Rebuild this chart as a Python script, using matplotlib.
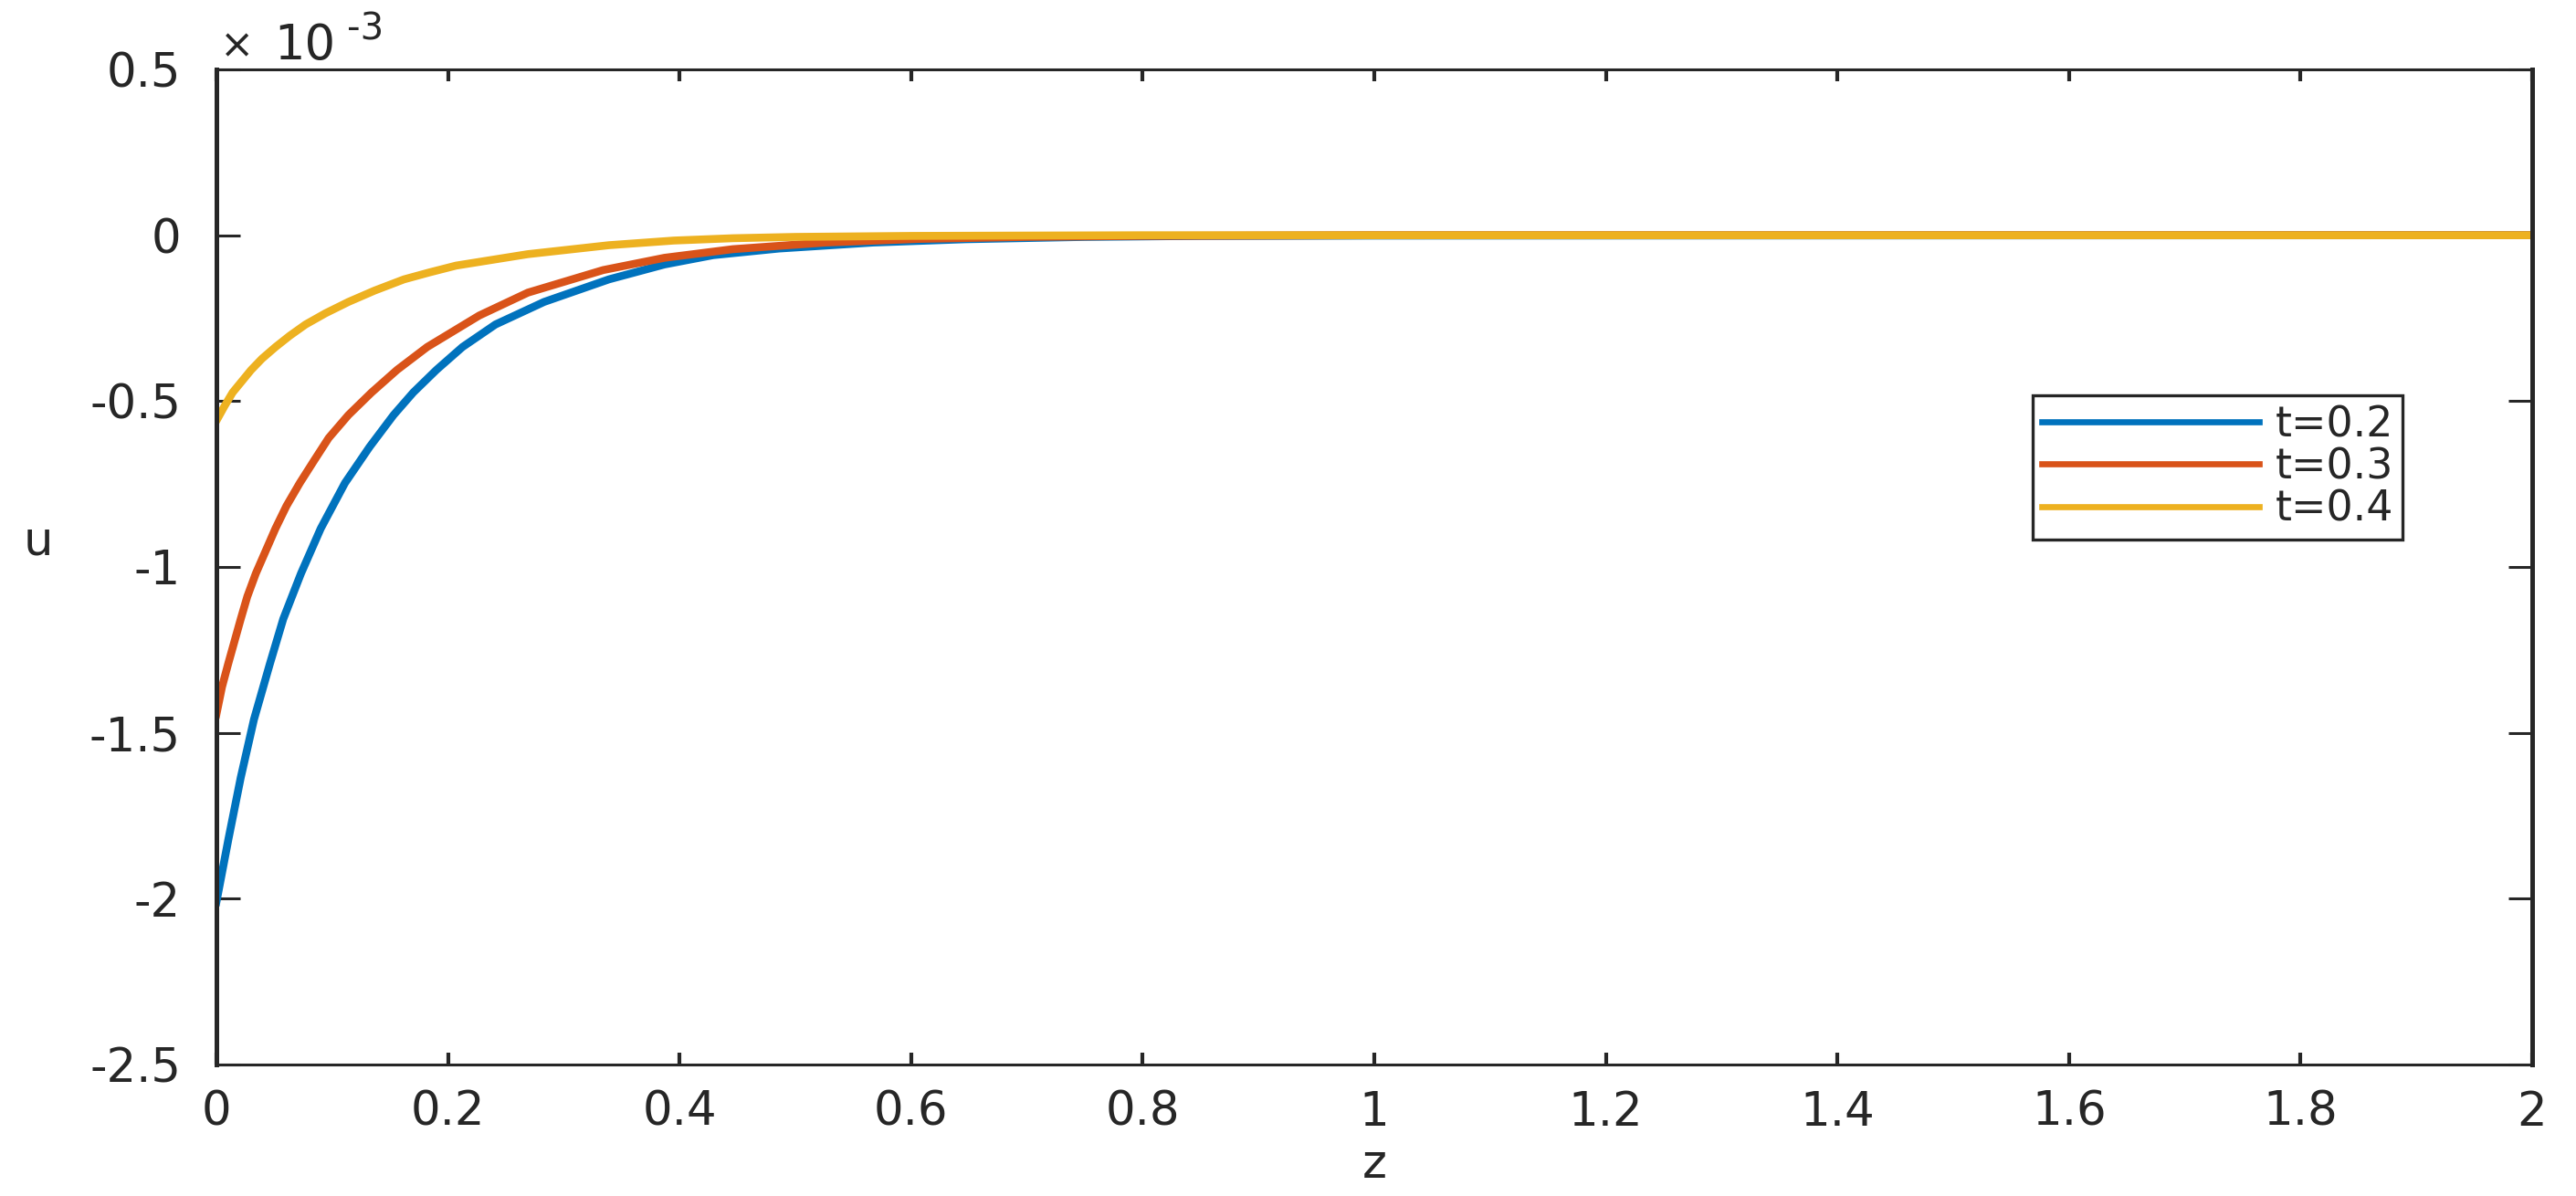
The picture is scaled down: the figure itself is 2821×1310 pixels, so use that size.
import numpy as np
import matplotlib
matplotlib.use('Agg')
import matplotlib.pyplot as plt
from matplotlib.ticker import FormatStrFormatter

plt.rcParams['font.family'] = ['DejaVu Sans']
plt.rcParams['axes.unicode_minus'] = False

# values, u in units of 1e-3
z_02 = [0, 0.0104, 0.021, 0.0324, 0.046, 0.0577, 0.073, 0.0901, 0.111, 0.1323, 0.153,
        0.170, 0.190, 0.2125, 0.241, 0.283, 0.339, 0.387, 0.429, 0.486, 0.567, 0.647,
        0.75, 0.85, 1.0, 2.0]
u_02 = [-2.01, -1.82, -1.635, -1.46, -1.294, -1.157, -1.02, -0.884, -0.747, -0.638, -0.542,
        -0.474, -0.406, -0.337, -0.269, -0.201, -0.133, -0.088, -0.060, -0.040, -0.022, -0.012,
        -0.005, -0.002, -0.001, 0]

z_03 = [0, 0.0048, 0.010, 0.021, 0.0267, 0.034, 0.051, 0.0605, 0.072, 0.0844, 0.097,
        0.114, 0.134, 0.156, 0.182, 0.227, 0.269, 0.334, 0.387, 0.446, 0.526, 0.607,
        0.7, 0.8, 1.0, 2.0]
u_03 = [-1.444, -1.362, -1.294, -1.157, -1.089, -1.02, -0.884, -0.816, -0.747, -0.679, -0.611,
        -0.542, -0.474, -0.406, -0.337, -0.242, -0.173, -0.105, -0.068, -0.042, -0.022, -0.011,
        -0.005, -0.002, 0, 0]

z_04 = [0, 0.007, 0.014, 0.030, 0.0394, 0.051, 0.0633, 0.077, 0.0943, 0.114, 0.1365,
        0.162, 0.184, 0.207, 0.269, 0.339, 0.395, 0.446, 0.5, 0.6, 0.8, 2.0]
u_04 = [-0.559, -0.515, -0.474, -0.406, -0.372, -0.337, -0.303, -0.269, -0.235, -0.201, -0.167,
        -0.133, -0.112, -0.0915, -0.057, -0.030, -0.016, -0.009, -0.005, -0.002, 0, 0]

labels = ['t=0.2', 't=0.3', 't=0.4']
colors = ['#0072BD', '#D95319', '#EDB120']
xticks = np.arange(0, 2.01, 0.2)
yticks = np.arange(-2.5, 0.51, 0.5)

W, H = 2821, 1310
fig = plt.figure(figsize=(W / 200, H / 200), dpi=200)
ax = fig.add_axes([237 / W, 1 - 1166 / H, (2773 - 237) / W, (1166 - 76) / H])

for z, u, lab, c in zip([z_02, z_03, z_04], [u_02, u_03, u_04], labels, colors):
    ax.plot(z, u, color=c, lw=3.1, label=lab, solid_joinstyle='round')

ax.set_xlim(0, 2)
ax.set_ylim(-2.5, 0.5)
ax.set_xticks(xticks)
ax.set_yticks(yticks)
ax.xaxis.set_major_formatter(FormatStrFormatter('%g'))
ax.yaxis.set_major_formatter(FormatStrFormatter('%g'))

axc = '#262626'
for k, s in ax.spines.items():
    s.set_color(axc)
    s.set_linewidth(1.8 if k in ('left', 'right') else 1.1)
ax.tick_params(direction='in', top=True, right=True, colors=axc, labelsize=18.5)
ax.tick_params(axis='x', length=4.7, width=1.5, pad=10)
ax.tick_params(axis='y', length=9.4, width=1.1, pad=14)

# exponent text like matlab
fig.text(241 / W, 1 - 63 / H, '×', fontsize=16, color=axc, va='baseline', ha='left')
fig.text(300 / W, 1 - 65 / H, '10', fontsize=19, color=axc, va='baseline', ha='left')
fig.text(380 / W, 1 - 43 / H, '-3', fontsize=14.5, color=axc, va='baseline', ha='left')

fig.text(1505 / W, 1 - 1290 / H, 'z', fontsize=18.5, color=axc, va='baseline', ha='center')
fig.text(42 / W, 1 - 608 / H, 'u', fontsize=18.5, color=axc, va='baseline', ha='center')

leg = ax.legend(loc='upper left', bbox_to_anchor=(2226 / W, 1 - 433 / H),
                bbox_transform=fig.transFigure, borderaxespad=0, fontsize=16.5,
                handlelength=5.2, handletextpad=0.38, labelspacing=0.03,
                borderpad=0.22, fancybox=False, framealpha=1)
leg.get_frame().set_edgecolor(axc)
leg.get_frame().set_linewidth(1.2)
for t in leg.get_texts():
    t.set_color(axc)
for ln in leg.get_lines():
    ln.set_linewidth(2.4)

fig.savefig('out.png', dpi=200)
